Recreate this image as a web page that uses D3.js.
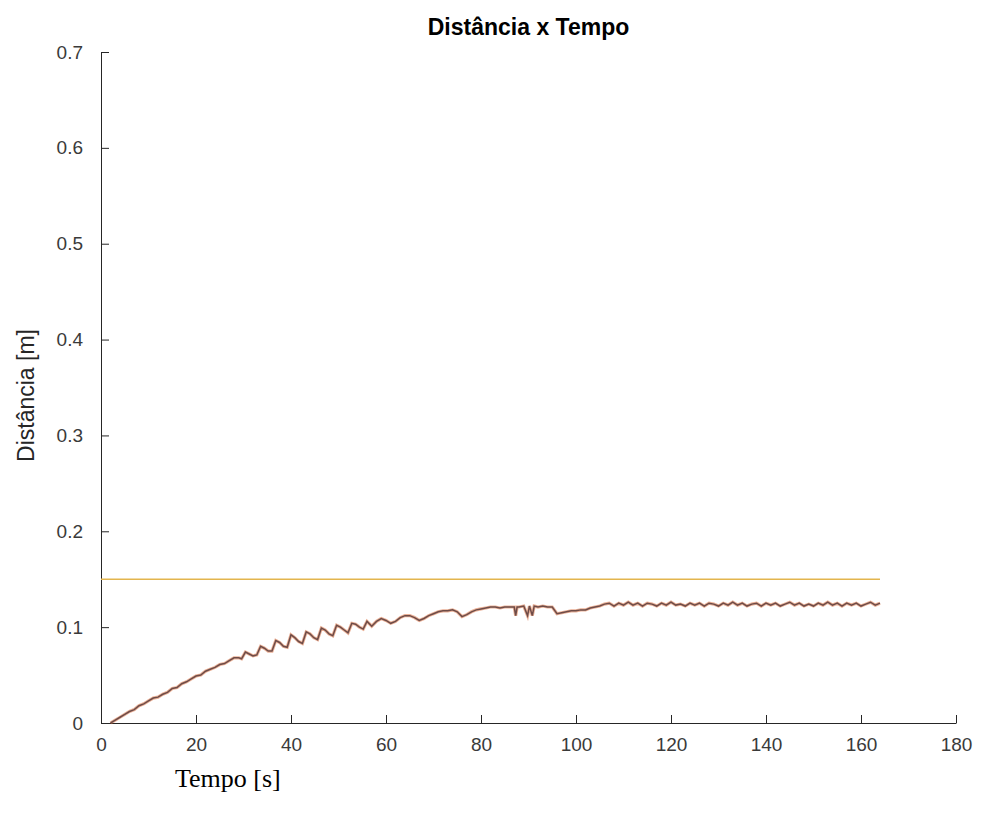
<!DOCTYPE html>
<html>
<head>
<meta charset="utf-8">
<script src="https://cdn.jsdelivr.net/npm/d3@7"></script>
<style>
  body { margin: 0; background: #fff; }
  .axis text { font-family: "Liberation Sans", Arial, sans-serif; font-size: 19px; fill: #3a3a3a; }
  .axis path, .axis line { stroke: #262626; }
</style>
</head>
<body>
<div id="chart"></div>
<script>
const tempo = [
  2, 3, 4, 5, 6, 7, 8, 9, 10, 11, 12, 13, 14, 15, 16, 17, 18, 19, 20, 21, 22, 23, 24, 25, 26, 27, 28, 29,
  29.6, 30.4, 31.2, 32.0, 32.8, 33.6, 34.4, 35.2, 36.0, 36.8, 37.6, 38.4, 39.2, 40.0, 40.8, 41.6,
  42.4, 43.2, 44.0, 44.8, 45.6, 46.4, 47.2, 48.0, 48.8, 49.6, 50.4, 51.2, 52.0, 52.8, 53.6, 54.4, 55.2, 56.0,
  57, 58, 59, 60, 61, 62, 63, 64, 65, 66, 67, 68, 69, 70, 71, 72, 73, 74, 75, 76, 77, 78, 79, 80,
  81, 82, 83, 84, 85, 86, 87, 87.3, 87.6, 88, 89, 89.8, 90.2, 90.8, 91.2, 92, 93, 94, 95, 96, 97, 98, 99,
  100, 101, 102, 103, 104, 105, 106,
  107, 108, 109, 110, 111, 112, 113, 114, 115, 116, 117, 118, 119, 120, 121, 122, 123, 124, 125, 126,
  127, 128, 129, 130, 131, 132, 133, 134, 135, 136, 137, 138, 139, 140, 141, 142, 143, 144, 145, 146,
  147, 148, 149, 150, 151, 152, 153, 154, 155, 156, 157, 158, 159, 160, 161, 162, 163, 164
];
const distancia = [
  0, 0.003, 0.006, 0.009, 0.012, 0.014, 0.018, 0.020, 0.023, 0.026, 0.027, 0.030, 0.032, 0.036, 0.037, 0.041,
  0.043, 0.046, 0.049, 0.050, 0.054, 0.056, 0.058, 0.061, 0.062, 0.065, 0.068, 0.068,
  0.067, 0.074, 0.072, 0.070, 0.071, 0.080, 0.078, 0.075, 0.075, 0.086, 0.084, 0.080, 0.079, 0.092, 0.089, 0.085,
  0.083, 0.095, 0.093, 0.089, 0.087, 0.099, 0.097, 0.093, 0.091, 0.102, 0.100, 0.097, 0.094, 0.104, 0.103, 0.100, 0.098, 0.106,
  0.101, 0.106, 0.109, 0.107, 0.104, 0.106, 0.110, 0.112, 0.112, 0.110, 0.107, 0.109, 0.112, 0.114, 0.116, 0.117,
  0.117, 0.118, 0.116, 0.111, 0.113, 0.116, 0.118, 0.119,
  0.120, 0.121, 0.121, 0.120, 0.121, 0.121, 0.121, 0.112, 0.121, 0.121, 0.122, 0.112, 0.122, 0.112, 0.122, 0.121,
  0.122, 0.121, 0.121, 0.114, 0.115, 0.116, 0.117,
  0.117, 0.118, 0.118, 0.120, 0.121, 0.122, 0.124,
  0.125, 0.122, 0.125, 0.123, 0.126, 0.123, 0.125, 0.122, 0.125, 0.124, 0.122, 0.125, 0.123, 0.126, 0.123, 0.124,
  0.122, 0.125, 0.123, 0.125, 0.122, 0.125, 0.124, 0.122, 0.125, 0.123, 0.126, 0.123, 0.125, 0.122, 0.124, 0.125,
  0.122, 0.125, 0.123, 0.125, 0.122, 0.124, 0.126, 0.123, 0.125, 0.122, 0.124, 0.122, 0.125, 0.123, 0.126, 0.123,
  0.125, 0.122, 0.125, 0.123, 0.125, 0.122, 0.124, 0.126, 0.123, 0.125
];

// setpoint line
const refTempo = [0, 164];
const refDistancia = [0.15, 0.15];

const xTicks = [0, 20, 40, 60, 80, 100, 120, 140, 160, 180];
const yTicks = [0, 0.1, 0.2, 0.3, 0.4, 0.5, 0.6, 0.7];

const W = 984, H = 821;
const margin = { top: 52, right: 28, bottom: 98, left: 101 };
const width = W - margin.left - margin.right,
  height = H - margin.top - margin.bottom;

const svg = d3.select("#chart")
  .append("svg")
  .attr("width", W)
  .attr("height", H)
  .append("g")
  .attr("transform", "translate(" + margin.left + "," + margin.top + ")");

const xScale = d3.scaleLinear().domain([0, 180]).range([0, width]);
const yScale = d3.scaleLinear().domain([0, 0.7]).range([height, 0]);

// axes, ticks pointing inward like matlab
const xAxis = d3.axisBottom(xScale).tickValues(xTicks)
  .tickSizeInner(-8).tickSizeOuter(0).tickPadding(15)
  .tickFormat(d3.format("d"));
const yAxis = d3.axisLeft(yScale).tickValues(yTicks)
  .tickSizeInner(-8).tickSizeOuter(0).tickPadding(18)
  .tickFormat(d => d === 0 ? "0" : d3.format(".1f")(d));

svg.append("g")
  .attr("class", "axis")
  .attr("transform", "translate(0," + height + ")")
  .call(xAxis);

svg.append("g")
  .attr("class", "axis")
  .call(yAxis);

// data lines
const pts = tempo.map((t, i) => [t, distancia[i]]);
const refPts = refTempo.map((t, i) => [t, refDistancia[i]]);

const line = d3.line()
  .x(d => xScale(d[0]))
  .y(d => yScale(d[1]));

svg.append("path")
  .datum(refPts)
  .attr("fill", "none")
  .attr("stroke", "#e3b54e")
  .attr("stroke-width", 1.5)
  .attr("d", line);

svg.append("path")
  .datum(pts)
  .attr("fill", "none")
  .attr("stroke", "#d9703f")
  .attr("stroke-opacity", 0.55)
  .attr("stroke-width", 3.2)
  .attr("d", line);

svg.append("path")
  .datum(pts)
  .attr("fill", "none")
  .attr("stroke", "#6e4c48")
  .attr("stroke-width", 1.5)
  .attr("d", line);

// title and labels
svg.append("text")
  .text("Distância x Tempo")
  .attr("x", width / 2)
  .attr("y", -17)
  .attr("text-anchor", "middle")
  .style("font-family", "Liberation Sans, Arial, sans-serif")
  .style("font-weight", "bold")
  .style("font-size", "23px")
  .style("fill", "#000");

svg.append("text")
  .text("Distância [m]")
  .attr("transform", "translate(" + (-67) + "," + (height / 2 + 8) + ") rotate(-90)")
  .attr("text-anchor", "middle")
  .style("font-family", "Liberation Sans, Arial, sans-serif")
  .style("font-size", "23px")
  .style("fill", "#262626");

svg.append("text")
  .text("Tempo [s]")
  .attr("x", 74)
  .attr("y", height + 64)
  .style("font-family", "Liberation Serif, Times New Roman, serif")
  .style("font-size", "26px")
  .style("fill", "#000");
</script>
</body>
</html>
